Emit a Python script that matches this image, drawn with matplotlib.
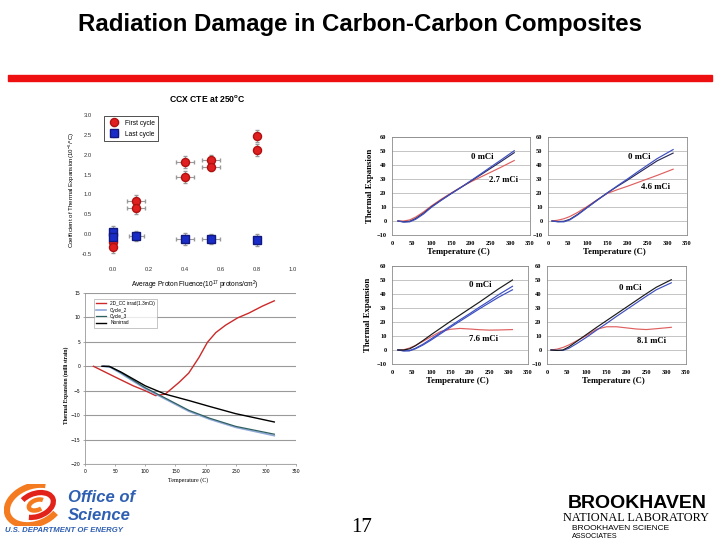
import matplotlib
matplotlib.use("Agg")
import matplotlib.pyplot as plt
from matplotlib.patches import Rectangle, Arc

plt.rcParams['mathtext.default'] = 'regular'

# ---------------- data ----------------
# CCX CTE at 250 C scatter
first_x = [0.0, 0.0, 0.13, 0.13, 0.40, 0.40, 0.545, 0.545, 0.80, 0.80]
first_y = [-0.20, -0.32, 0.84, 0.67, 1.81, 1.45, 1.87, 1.70, 2.48, 2.12]
first_xerr = [0, 0, 0.05, 0.05, 0.05, 0.05, 0.05, 0.05, 0, 0]
first_yerr = [0.15, 0.15, 0.15, 0.15, 0.15, 0.15, 0.12, 0.12, 0.15, 0.15]
last_x = [0.0, 0.0, 0.13, 0.40, 0.545, 0.80]
last_y = [0.06, -0.06, -0.05, -0.11, -0.12, -0.14]
last_xerr = [0, 0, 0.04, 0.05, 0.05, 0]
last_yerr = [0.15, 0.15, 0.12, 0.15, 0.12, 0.15]
scatter_xticks = [0.0, 0.2, 0.4, 0.6, 0.8, 1.0]
scatter_yticks = [-0.5, 0.0, 0.5, 1.0, 1.5, 2.0, 2.5, 3.0]

# bottom-left thermal expansion
red_T = [14, 50, 80, 100, 117, 133, 156, 172, 189, 203, 217, 233, 253, 272, 294, 314]
red_y = [0, -2.2, -4.0, -5.0, -6.0, -5.7, -3.3, -1.4, 1.8, 4.9, 6.9, 8.4, 9.9, 10.9, 12.3, 13.4]
blk_T = [28, 40, 60, 80, 100, 133, 172, 206, 250, 314]
blk_y = [0, 0, -1.2, -2.6, -4.0, -5.7, -7.0, -8.2, -9.7, -11.4]
cyc_T = [30, 42, 60, 100, 133, 172, 206, 250, 314]
cyc2_y = [0, -0.2, -1.5, -4.6, -6.7, -9.2, -10.8, -12.5, -14.2]
cyc3_y = [0, -0.1, -1.3, -4.4, -6.5, -9.0, -10.6, -12.3, -13.9]
bl_labels = ["2D_CC irrad(1.3mCi)", "Cycle_2", "Cycle_3", "Nonirrad"]

# right four panels
tm_T = [15, 30, 45, 60, 80, 100, 125, 150, 175, 200, 225, 250, 275, 310]
tm_a = [0, -0.8, -0.6, 1.2, 5.0, 9.8, 14.8, 19.5, 24.0, 28.8, 33.6, 38.5, 43.3, 50.2]
tm_b = [0, -0.6, -0.2, 1.8, 5.6, 10.2, 15.0, 19.6, 24.0, 28.5, 33.0, 37.6, 42.2, 48.8]
tm_r = [0, 0, 0.8, 2.8, 6.5, 10.8, 15.6, 20.0, 24.2, 28.0, 31.4, 34.8, 38.2, 43.2]

tr_T = [10, 25, 40, 55, 75, 100, 125, 150, 175, 200, 225, 250, 275, 315]
tr_a = [0, -0.6, -0.6, 0.8, 4.4, 9.8, 15.0, 20.2, 25.2, 30.0, 35.0, 39.8, 44.6, 51.0]
tr_b = [0, -0.4, -0.2, 1.2, 4.8, 10.0, 15.2, 20.2, 24.8, 29.2, 33.8, 38.4, 43.0, 48.5]
tr_r = [0, 0.6, 1.6, 3.2, 6.2, 10.6, 15.4, 19.8, 22.4, 24.8, 27.4, 30.0, 32.6, 37.0]

bm_T = [15, 30, 45, 60, 80, 100, 125, 150, 175, 200, 225, 250, 275, 310]
bm_k = [0, 0, 0.8, 3.0, 6.8, 10.8, 15.6, 20.4, 25.0, 29.6, 34.2, 39.0, 43.8, 50.0]
bm_a = [0, -0.6, -0.4, 1.2, 4.2, 7.8, 12.4, 17.0, 21.6, 26.0, 30.6, 35.0, 39.6, 45.5]
bm_b = [0, -0.6, -0.6, 0.8, 3.6, 7.0, 11.6, 16.2, 20.6, 25.0, 29.4, 33.6, 37.8, 43.0]
bm_r = [0, 0.2, 1.4, 3.2, 6.2, 9.4, 13.2, 14.8, 15.4, 15.0, 14.5, 14.2, 14.3, 14.6]

br_T = [10, 25, 40, 55, 75, 100, 125, 150, 175, 200, 225, 250, 275, 313]
br_k = [0, -0.3, 0, 2.2, 6.2, 11.2, 16.2, 21.0, 25.8, 30.6, 35.4, 40.2, 44.8, 50.2]
br_a = [0, -0.3, -0.3, 1.2, 4.6, 9.2, 14.2, 19.0, 24.0, 28.8, 33.6, 38.4, 43.0, 48.0]
br_r = [0, 0.6, 1.8, 3.6, 6.6, 10.4, 14.8, 16.6, 16.6, 15.8, 15.0, 14.6, 15.2, 16.2]

dose_labels = ["2.7 mCi", "4.6 mCi", "7.6 mCi", "8.1 mCi"]
temp_ticks = [0, 50, 100, 150, 200, 250, 300, 350]
exp_ticks = [-10, 0, 10, 20, 30, 40, 50, 60]

# ---------------- figure ----------------
W, H = 720, 540
fig = plt.figure(figsize=(7.2, 5.4), dpi=100)
SANS = "Liberation Sans"
SERIF = "Liberation Serif"


def px_axes(x0, y0, x1, y1):
    return fig.add_axes([x0 / W, 1 - y1 / H, (x1 - x0) / W, (y1 - y0) / H])


def ftext(x, y, s, **kw):
    kw.setdefault("ha", "center")
    kw.setdefault("va", "center")
    return fig.text(x / W, 1 - y / H, s, **kw)


# title and red rule
ftext(360, 25, "Radiation Damage in Carbon-Carbon Composites", fontsize=17.3,
      family=SANS, weight="bold")
fig.patches.append(Rectangle((8 / W, 1 - 81 / H), 704 / W, 6 / H,
                             transform=fig.transFigure, color="#ee1010"))

# ---------- scatter panel ----------
ax = px_axes(95, 105, 293, 264)
ax.errorbar(first_x, first_y, xerr=first_xerr, yerr=first_yerr, fmt="o",
            color="#e02020", mec="#b01010", ms=5.8, ecolor="#999999",
            elinewidth=0.8, capsize=1.2, label="First cycle", zorder=3)
ax.errorbar(last_x, last_y, xerr=last_xerr, yerr=last_yerr, fmt="s",
            color="#1a2cc8", mec="#101880", ms=5.8, ecolor="#999999",
            elinewidth=0.8, capsize=1.2, label="Last cycle", zorder=3)
ax.set_xlim(-0.1, 1.0)
ax.set_ylim(-0.75, 3.25)
ax.set_xticks(scatter_xticks)
ax.set_yticks(scatter_yticks)
ax.set_xticklabels([f"{v:.1f}" for v in scatter_xticks])
ax.set_yticklabels([f"{v:.1f}" for v in scatter_yticks])
ax.tick_params(labelsize=4.2, length=0, pad=2, labelcolor="#333333")
for s in ax.spines.values():
    s.set_visible(False)
for lab in ax.get_xticklabels() + ax.get_yticklabels():
    lab.set_family(SANS)
leg = ax.legend(loc="upper left", bbox_to_anchor=(0.03, 0.95),
                frameon=True, fancybox=False, edgecolor="black",
                handletextpad=0.6, borderpad=0.5, labelspacing=0.6,
                prop={"family": SANS, "size": 4.8})
leg.get_frame().set_linewidth(0.6)
ftext(207, 98, "CCX CTE at 250$^{o}$C", fontsize=6.2, weight="bold",
      family=SANS)
ftext(72, 190, "Coefficient of Thermal Expansion(10$^{-6}$/$^{o}$C)",
      fontsize=4.4, rotation=90, family=SANS)
ftext(195, 285, "Average Proton Fluence(10$^{17}$ protons/cm$^{2}$)",
      fontsize=4.8, family=SANS)

# ---------- bottom-left panel ----------
ax2 = px_axes(85, 293, 296, 464)
ax2.plot(red_T, red_y, color="#cc2a2a", lw=1.0, label=bl_labels[0])
ax2.plot(cyc_T, cyc2_y, color="#8fa8d8", lw=1.2, label=bl_labels[1])
ax2.plot(cyc_T, cyc3_y, color="#2f6060", lw=0.9, label=bl_labels[2])
ax2.plot(blk_T, blk_y, color="black", lw=1.0, label=bl_labels[3])
ax2.set_xlim(0, 350)
ax2.set_ylim(-20, 15)
ax2.set_xticks(temp_ticks)
ax2.set_yticks([-20, -15, -10, -5, 0, 5, 10, 15])
ax2.yaxis.grid(True, color="#9a9a9a", lw=0.8)
ax2.set_axisbelow(True)
ax2.tick_params(labelsize=3.3, length=1.5, width=0.5, color="#888888", pad=2)
for k in ("top", "right"):
    ax2.spines[k].set_visible(False)
for k in ("left", "bottom"):
    ax2.spines[k].set_color("#999999")
    ax2.spines[k].set_linewidth(0.6)
leg2 = ax2.legend(loc="upper left", bbox_to_anchor=(0.03, 0.98),
                  fancybox=False, edgecolor="#999999", handlelength=2.2,
                  borderpad=0.5, labelspacing=0.3,
                  prop={"family": SANS, "size": 3.4})
leg2.get_frame().set_linewidth(0.5)
ftext(66, 385, "Thermal Expansion (milli strain)", fontsize=4.0,
      rotation=90, family=SERIF, weight="bold")
ftext(188, 480, "Temperature (C)", fontsize=4.3, family=SERIF)


# ---------- right four panels ----------
def small_panel(box, T, series, colors, zero_pos, dose_pos, dose_label,
                ylabel_x=None):
    a = px_axes(*box)
    for ys, c in zip(series, colors):
        a.plot(T, ys, color=c, lw=0.85)
    a.set_xlim(0, 350)
    a.set_ylim(-10, 60)
    a.set_xticks(temp_ticks)
    a.set_yticks(exp_ticks)
    a.yaxis.grid(True, color="#c4c4c4", lw=0.7)
    a.set_axisbelow(True)
    a.tick_params(labelsize=4.6, length=0, pad=4)
    for lab in a.get_xticklabels() + a.get_yticklabels():
        lab.set_family(SERIF)
        lab.set_weight("bold")
    for s in a.spines.values():
        s.set_color("#8a8a8a")
        s.set_linewidth(0.6)
    a.text(zero_pos[0], zero_pos[1], "0 mCi", fontsize=6.3, family=SERIF,
           weight="bold", ha="center", va="center")
    a.text(dose_pos[0], dose_pos[1], dose_label, fontsize=6.3, family=SERIF,
           weight="bold", ha="center", va="center",
           bbox=dict(facecolor="white", edgecolor="none", pad=0.3))
    x0, y0, x1, y1 = box
    ftext((x0 + x1) / 2 - 3, y1 + 17, "Temperature (C)", fontsize=6.3,
          family=SERIF, weight="bold")
    if ylabel_x is not None:
        ftext(ylabel_x, (y0 + y1) / 2, "Thermal Expansion", fontsize=6.3,
              family=SERIF, weight="bold", rotation=90)
    return a


BLUE, DARK, RED, BLACK = "#3d4fc0", "#2a2a5a", "#e06060", "#1a1a1a"
small_panel((392, 137, 530, 235), tm_T, [tm_r, tm_b, tm_a],
            [RED, DARK, BLUE], (228, 45.6), (284, 29), dose_labels[0],
            ylabel_x=370)
small_panel((548, 137, 687, 235), tr_T, [tr_r, tr_b, tr_a],
            [RED, DARK, BLUE], (229, 45.6), (272, 24), dose_labels[1])
small_panel((392, 266, 528, 364), bm_T, [bm_r, bm_b, bm_a, bm_k],
            [RED, BLUE, BLUE, BLACK], (226, 46.4), (236, 7.9),
            dose_labels[2], ylabel_x=368)
small_panel((547, 266, 686, 364), br_T, [br_r, br_a, br_k],
            [RED, BLUE, BLACK], (209, 44.3), (264, 6.4), dose_labels[3])

# ---------- footer ----------
lg = px_axes(4, 484, 64, 526)
lg.set_xlim(-1.5, 1.5)
lg.set_ylim(-1.05, 1.05)
lg.axis("off")
lg.add_patch(Arc((0, 0), 2.8, 1.9, angle=20, theta1=40, theta2=320,
                 color="#f47b20", lw=4.5))
lg.add_patch(Arc((0.1, 0.0), 1.8, 1.15, angle=20, theta1=220, theta2=500,
                 color="#e2231a", lw=3.8))
lg.add_patch(Arc((0.15, 0.0), 0.85, 0.5, angle=20, theta1=20, theta2=300,
                 color="#f47b20", lw=3.2))
OS_BLUE = "#2f5fb2"
ftext(68, 497, "Office of", fontsize=12, family=SANS, weight="bold",
      style="italic", color=OS_BLUE, ha="left")
ftext(68, 515, "Science", fontsize=12, family=SANS, weight="bold",
      style="italic", color=OS_BLUE, ha="left")
ftext(5, 530, "U.S. DEPARTMENT OF ENERGY", fontsize=5.6, family=SANS,
      weight="bold", style="italic", color=OS_BLUE, ha="left")

ftext(362, 528, "17", fontsize=15, family=SERIF)

ftext(637, 504, "BROOKHAVEN", fontsize=14, family=SANS, weight="bold")
ftext(636, 518, "NATIONAL LABORATORY", fontsize=8.8, family=SERIF)
ftext(572, 529, "BROOKHAVEN SCIENCE", fontsize=6.0, family=SANS, ha="left")
ftext(572, 536.5, "ASSOCIATES", fontsize=5.2, family=SANS, ha="left")

fig.savefig("out.png", dpi=100)
